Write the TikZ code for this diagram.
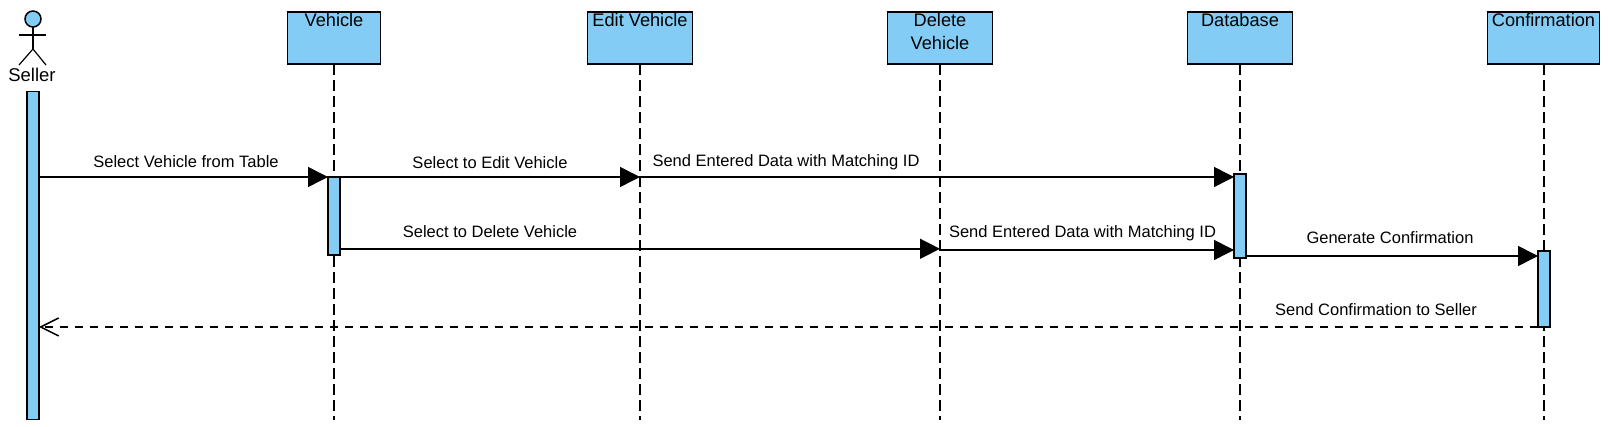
\documentclass[tikz,border=0pt]{standalone}
\usepackage{fontspec}
\setmainfont{Liberation Sans}
\usetikzlibrary{arrows.meta}

\definecolor{lifeblue}{RGB}{131,204,245}
\newcommand{\headtext}[2]{\parbox[c][49pt][t]{#1}{\centering #2}}

\tikzset{
  headbox/.style={draw,fill=lifeblue,line width=1.8pt,inner sep=0pt,outer sep=0pt,minimum height=52pt,
    font=\fontsize{18.2}{22.5}\selectfont},
  actbar/.style={draw,fill=lifeblue,line width=1.8pt,inner sep=0pt,outer sep=0pt,minimum width=12pt},
  lifeline/.style={line width=1.5pt,dash pattern=on 11pt off 5pt},
  msg/.style={line width=1.5pt,-{Triangle[length=20pt,width=20pt]}},
  reply/.style={line width=1.5pt,dash pattern=on 8pt off 7pt,-{Straight Barb[length=18pt,width=18pt,line width=1.5pt]}},
  msgtext/.style={inner sep=0pt,font=\fontsize{16.5}{18}\selectfont},
}

\begin{document}
\begin{tikzpicture}[x=1pt,y=-1pt]
\useasboundingbox (0,0) rectangle (1610,427);

\node[headbox,minimum width=93pt] (vehicle) at (334,38) {\headtext{93pt}{Vehicle}};
\node[headbox,minimum width=105pt] (edit) at (640,38) {\headtext{105pt}{Edit Vehicle}};
\node[headbox,minimum width=105pt] (delete) at (940,38) {\headtext{105pt}{Delete\\Vehicle}};
\node[headbox,minimum width=105pt] (database) at (1240,38) {\headtext{105pt}{Database}};
\node[headbox,minimum width=112pt] (confirm) at (1543.5,38) {\headtext{112pt}{Confirmation}};

\coordinate (vehicleend) at (334,420);
\coordinate (editend) at (640,420);
\coordinate (deleteend) at (940,420);
\coordinate (databaseend) at (1240,420);
\coordinate (confirmend) at (1544,420);

\draw[lifeline] (vehicle) -- (vehicleend);
\draw[lifeline] (edit) -- (editend);
\draw[lifeline] (delete) -- (deleteend);
\draw[lifeline] (database) -- (databaseend);
\draw[lifeline] (confirm.south -| confirmend) -- (confirmend);

% seller
\node[draw,circle,fill=lifeblue,line width=1.5pt,inner sep=0pt,outer sep=0pt,minimum size=16pt] (head) at (33,19) {};
\coordinate (hip) at (33,49);
\coordinate (lefthand) at (19,35);
\coordinate (righthand) at (46,35);
\coordinate (leftfoot) at (19,65);
\coordinate (rightfoot) at (46,65);
\draw[line width=1.2pt] (head) -- (hip);
\draw[line width=1.2pt] (lefthand) -- (righthand);
\draw[line width=1.2pt] (leftfoot) -- (hip) -- (rightfoot);
\node[inner sep=0pt,font=\fontsize{18.5}{20}\selectfont] (sellertext) at (32,75) {Seller};

% bars
\node[actbar,minimum height=328pt] (sellerbar) at (33,255.5) {};
\node[actbar,minimum height=78pt] (vehiclebar) at (334,216) {};
\node[actbar,minimum height=84pt] (databasebar) at (1240,216) {};
\node[actbar,minimum height=76pt] (confirmbar) at (1544,289) {};

\coordinate (row1) at (0,177);
\coordinate (row2) at (0,248.8);
\coordinate (row3) at (0,250);
\coordinate (row4) at (0,256);
\coordinate (row5) at (0,327);

\draw[msg] (sellerbar.east |- row1) -- (vehiclebar.west |- row1);
\draw[msg] (vehiclebar.east |- row1) -- (edit |- row1);
\draw[msg] (edit |- row1) -- (databasebar.west |- row1);
\draw[msg] (vehiclebar.east |- row2) -- (delete |- row2);
\draw[msg] (delete |- row3) -- (databasebar.west |- row3);
\draw[msg] (databasebar.east |- row4) -- (confirmbar.west |- row4);
\draw[reply] (confirmbar.west |- row5) -- (sellerbar.east |- row5);

\node[msgtext] (t1) at (186,161.5) {Select Vehicle from Table};
\node[msgtext] (t2) at (490,162.5) {Select to Edit Vehicle};
\node[msgtext] (t3) at (786,162.5) {Send Entered Data with Matching ID};
\node[msgtext] (t4) at (490,231.5) {Select to Delete Vehicle};
\node[msgtext] (t5) at (1082.5,233.5) {Send Entered Data with Matching ID};
\node[msgtext] (t6) at (1390,237.5) {Generate Confirmation};
\node[msgtext] (t7) at (1376,309.5) {Send Confirmation to Seller};
\end{tikzpicture}
\end{document}
